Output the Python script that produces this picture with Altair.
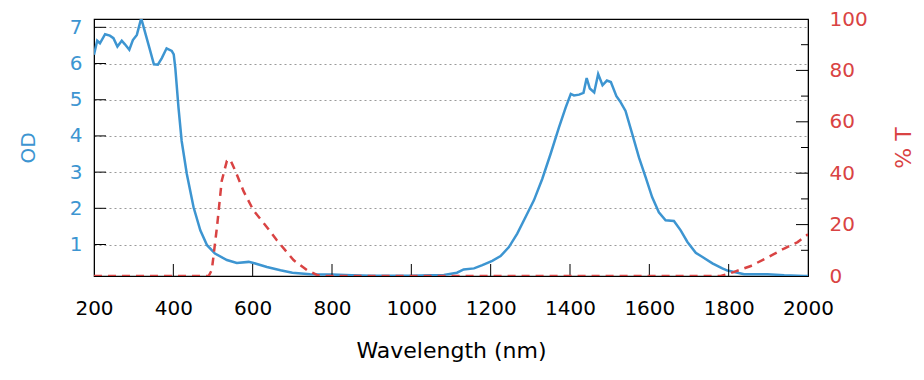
import altair as alt
import pandas as pd

# ---- data ----
od_wl = [200, 208, 215, 228, 240, 249, 259, 270, 278, 289, 298, 308, 319, 326, 340, 351, 361, 371, 383, 396,
         401, 405, 413, 421, 434, 451, 468, 485, 505, 535, 560, 590, 602, 636, 670, 700, 745, 800, 850, 900,
         950, 1000, 1050, 1082, 1115, 1132, 1158, 1179, 1204, 1225, 1246, 1267, 1288, 1309, 1330, 1351, 1372,
         1389, 1402, 1410, 1423, 1434, 1442, 1450, 1461, 1471, 1482, 1493, 1503, 1517, 1526, 1540, 1557, 1574,
         1591, 1607, 1624, 1641, 1662, 1679, 1696, 1717, 1733, 1759, 1784, 1797, 1839, 1898, 1940, 1990, 2000]
od_val = [6.24, 6.63, 6.56, 6.81, 6.77, 6.70, 6.47, 6.63, 6.53, 6.38, 6.65, 6.79, 7.25, 6.97, 6.42, 5.98, 5.97,
          6.15, 6.42, 6.35, 6.25, 5.87, 4.78, 3.86, 2.95, 2.03, 1.39, 0.98, 0.75, 0.57, 0.49, 0.52, 0.49, 0.38,
          0.29, 0.22, 0.18, 0.17, 0.15, 0.14, 0.14, 0.14, 0.15, 0.16, 0.22, 0.31, 0.34, 0.43, 0.55, 0.68, 0.93,
          1.30, 1.76, 2.22, 2.81, 3.50, 4.23, 4.78, 5.16, 5.12, 5.14, 5.19, 5.60, 5.31, 5.20, 5.71, 5.40, 5.53,
          5.49, 5.10, 4.96, 4.69, 4.05, 3.40, 2.85, 2.31, 1.89, 1.67, 1.65, 1.39, 1.07, 0.77, 0.66, 0.48, 0.34,
          0.28, 0.18, 0.18, 0.15, 0.13, 0.13]

t_wl = [200, 489, 497, 510, 522, 535, 543, 556, 577, 602, 636, 661, 703, 737, 762, 775,
        1780, 1814, 1856, 1898, 1940, 1974, 2000]
t_val = [0, 0, 2.3, 19, 37, 44.8, 45.4, 41, 33, 25.5, 19, 13.9, 6.2, 2.3, 0.4, 0,
         0, 1.6, 3.9, 7.2, 10.7, 13.2, 16.2]

x_ticks = [200, 400, 600, 800, 1000, 1200, 1400, 1600, 1800, 2000]
x_inner_ticks = [400, 600, 800, 1000, 1200, 1400, 1600, 1800]
od_ticks = [1, 2, 3, 4, 5, 6, 7]
t_ticks = [0, 20, 40, 60, 80, 100]
t_major_inner = [20, 40, 60, 80]
t_minor_inner = [10, 30, 50, 70, 90]

W, H = 714, 257
BLUE = "#3d95d1"
RED = "#d94343"
FS = 20

od_df = pd.DataFrame({"wl": od_wl, "od": od_val})
t_df = pd.DataFrame({"wl": t_wl, "t": t_val})

x_scale = alt.Scale(domain=[200, 2000], nice=False, zero=False)
od_scale = alt.Scale(domain=[0.13, 7.23], nice=False, zero=False)
t_scale = alt.Scale(domain=[0, 100], nice=False, zero=False)

x_axis = alt.Axis(values=x_ticks, title="Wavelength (nm)", ticks=False, tickSize=0, labelPadding=22,
                  grid=False, domainColor="black", labelColor="black", titleColor="black",
                  labelFontSize=FS, titleFontSize=22, titleFontWeight="normal", titlePadding=22,
                  format="d", labelFlush=False)
od_axis = alt.Axis(values=od_ticks, title="OD", orient="left", grid=True, gridDash=[2, 3],
                   gridColor="#9a9a9a", ticks=False, tickSize=0, labelPadding=12,
                   labelColor=BLUE, titleColor=BLUE, domainColor="black",
                   labelFontSize=FS, titleFontSize=20, titleFontWeight="normal", titlePadding=31)
t_axis = alt.Axis(values=t_ticks, title="% T", orient="right", grid=False, ticks=False, tickSize=0,
                  labelPadding=21, labelColor=RED, titleColor=RED, domainColor="black",
                  labelFontSize=FS, titleFontSize=22, titleFontWeight="normal", titlePadding=48,
                  titleAngle=270, labelFlush=False)

X = alt.X("wl:Q", scale=x_scale, axis=x_axis)

blue = alt.Chart(od_df).mark_line(color=BLUE, strokeWidth=2.5, clip=True).encode(
    x=X, y=alt.Y("od:Q", scale=od_scale, axis=od_axis))

left_ticks = alt.Chart(pd.DataFrame({"od": od_ticks})).mark_rule(color="black", strokeWidth=1).encode(
    y=alt.Y("od:Q", scale=od_scale, axis=od_axis), x=alt.value(0), x2=alt.value(12))

bottom_ticks = alt.Chart(pd.DataFrame({"wl": x_inner_ticks})).mark_rule(color="black", strokeWidth=1).encode(
    x=X, y=alt.value(H), y2=alt.value(H - 12))

red = alt.Chart(t_df).mark_line(color=RED, strokeWidth=2.5, strokeDash=[8, 6], clip=True).encode(
    x=X, y=alt.Y("t:Q", scale=t_scale, axis=t_axis))

right_major = alt.Chart(pd.DataFrame({"t": t_major_inner})).mark_rule(color="black", strokeWidth=1).encode(
    y=alt.Y("t:Q", scale=t_scale, axis=t_axis), x=alt.value(W), x2=alt.value(W - 12))

right_minor = alt.Chart(pd.DataFrame({"t": t_minor_inner})).mark_rule(color="black", strokeWidth=1).encode(
    y=alt.Y("t:Q", scale=t_scale, axis=t_axis), x=alt.value(W), x2=alt.value(W - 7))

left_group = alt.layer(blue, left_ticks, bottom_ticks)
right_group = alt.layer(red, right_major, right_minor)

chart = alt.layer(left_group, right_group).resolve_scale(y="independent").properties(
    width=W, height=H,
    autosize=alt.AutoSizeParams(type="none"),
    padding={"left": 86, "top": 11, "right": 108, "bottom": 96},
).configure(font="DejaVu Sans").configure_view(stroke="black", strokeWidth=1.2)

chart.save("out.html", embed_options={"renderer": "svg", "actions": False})
